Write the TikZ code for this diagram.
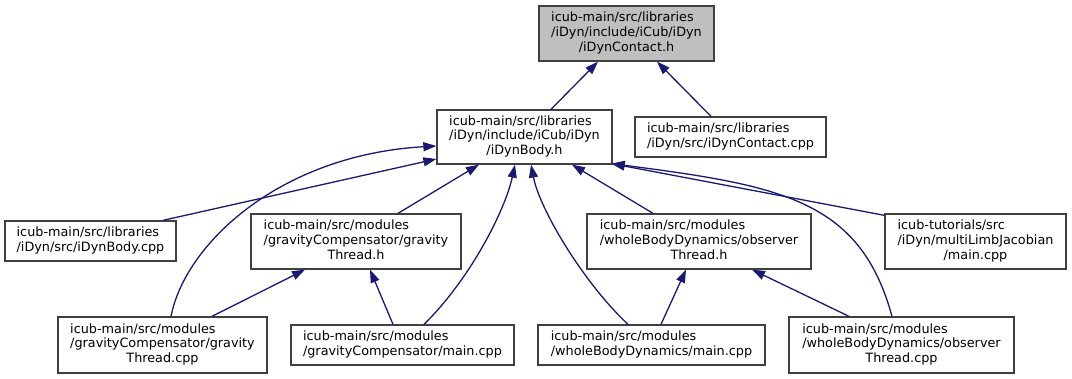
\documentclass[tikz,border=0pt]{standalone}
\usepackage{fontspec}
\setmainfont{DejaVu Sans}
\usetikzlibrary{arrows.meta}

\definecolor{edgeblue}{HTML}{191970}
\definecolor{rootgray}{HTML}{BFBFBF}
\definecolor{boxline}{HTML}{404040}

% file label: lines flush left, last line may be centred
\newcommand{\flines}[1]{\begin{tabular}{@{}l@{}}#1\end{tabular}}
\newcommand{\lastc}[1]{\multicolumn{1}{@{}c@{}}{#1}}

\begin{document}
\begin{tikzpicture}[x=1pt, y=-1pt,
    file/.style={rectangle, draw=boxline, line width=1.3pt, fill=white, inner sep=0pt, font=\fontsize{12.8pt}{14.7pt}\selectfont},
    root/.style={file, fill=rootgray},
    arrow/.style={-{Triangle[length=13pt, width=9pt]}, draw=edgeblue, line width=1.3pt}
]
\useasboundingbox (0,0) rectangle (1072,379);

\node[root, minimum width=175pt, minimum height=55pt] (contacth) at (626.5,33.5) {\flines{icub-main/src/libraries\\/iDyn/include/iCub/iDyn\\\lastc{/iDynContact.h}}};

\node[file, minimum width=175pt, minimum height=54pt] (bodyh) at (524.5,137) {\flines{icub-main/src/libraries\\/iDyn/include/iCub/iDyn\\\lastc{/iDynBody.h}}};
\node[file, minimum width=191pt, minimum height=40pt] (contactcpp) at (730.5,137) {\flines{icub-main/src/libraries\\/iDyn/src/iDynContact.cpp}};

\node[file, minimum width=171pt, minimum height=40pt] (bodycpp) at (90.5,241) {\flines{icub-main/src/libraries\\/iDyn/src/iDynBody.cpp}};
\node[file, minimum width=210pt, minimum height=55pt] (gravh) at (356,241.5) {\flines{icub-main/src/modules\\/gravityCompensator/gravity\\\lastc{Thread.h}}};
\node[file, minimum width=224pt, minimum height=55pt] (obsh) at (699,241.5) {\flines{icub-main/src/modules\\/wholeBodyDynamics/observer\\\lastc{Thread.h}}};
\node[file, minimum width=181pt, minimum height=55pt] (limbmain) at (975.5,241.5) {\flines{icub-tutorials/src\\/iDyn/multiLimbJacobian\\\lastc{/main.cpp}}};

\node[file, minimum width=209pt, minimum height=56pt] (gravcpp) at (162.5,345) {\flines{icub-main/src/modules\\/gravityCompensator/gravity\\\lastc{Thread.cpp}}};
\node[file, minimum width=223pt, minimum height=40pt] (gravmain) at (402.5,345) {\flines{icub-main/src/modules\\/gravityCompensator/main.cpp}};
\node[file, minimum width=227pt, minimum height=40pt] (wbdmain) at (651.5,345) {\flines{icub-main/src/modules\\/wholeBodyDynamics/main.cpp}};
\node[file, minimum width=225pt, minimum height=56pt] (obscpp) at (901.5,345) {\flines{icub-main/src/modules\\/wholeBodyDynamics/observer\\\lastc{Thread.cpp}}};

% Arrows
\draw[arrow] ([xshift=26.5pt]bodyh.north) -- ([xshift=-28.5pt]contacth.south);
\draw[arrow] ([xshift=-19.5pt]contactcpp.north) -- ([xshift=30.5pt]contacth.south);
\draw[arrow] ([xshift=72.5pt]bodycpp.north) -- ([yshift=-22pt]bodyh.west);
\draw[arrow] ([xshift=8.5pt]gravcpp.north) .. controls +(14,-72) and +(-157,9) .. ([yshift=-9pt]bodyh.west);
\draw[arrow] ([xshift=42pt]gravh.north) -- ([xshift=-45.5pt]bodyh.south);
\draw[arrow] ([xshift=21.5pt]gravmain.north) .. controls +(46,-45) and +(-10,46) .. ([xshift=-9.5pt]bodyh.south);
\draw[arrow] ([xshift=-23.5pt]wbdmain.north) .. controls +(-43,-40) and +(9,46) .. ([xshift=6.5pt]bodyh.south);
\draw[arrow] ([xshift=-46pt]obsh.north) -- ([xshift=47.5pt]bodyh.south);
\draw[arrow] ([yshift=-2pt]limbmain.north west) -- ([xshift=-1pt, yshift=1pt]bodyh.south east);
\draw[arrow] ([xshift=-9.5pt]obscpp.north) .. controls +(-32,-117) and +(169,22) .. ([xshift=-1pt, yshift=1pt]bodyh.south east);
\draw[arrow] ([xshift=49.5pt]gravcpp.north) -- ([xshift=-51pt]gravh.south);
\draw[arrow] ([xshift=-9.5pt]gravmain.north) -- ([xshift=14pt]gravh.south);
\draw[arrow] ([xshift=9.5pt]wbdmain.north) -- ([xshift=-13pt]obsh.south);
\draw[arrow] ([xshift=-52.5pt]obscpp.north) -- ([xshift=53pt]obsh.south);

\end{tikzpicture}
\end{document}
